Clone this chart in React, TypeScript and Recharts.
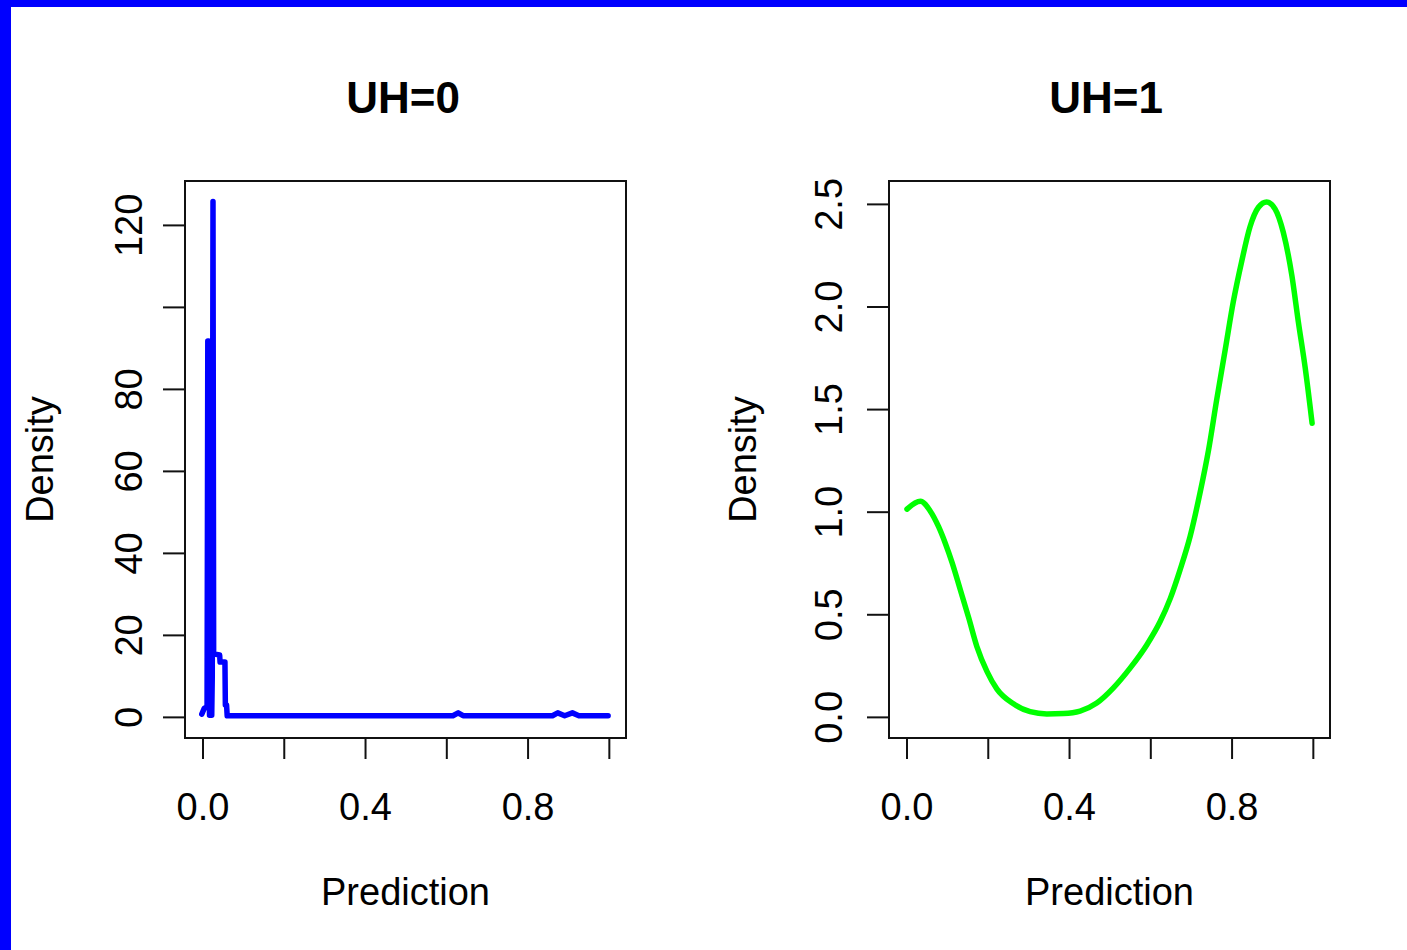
import { LineChart, Line, XAxis, YAxis, ReferenceArea } from 'recharts';

const W = 1407;
const H = 950;
const FONT = '"Liberation Sans", Arial, Helvetica, sans-serif';

// shared x axis
const xTicks = [0, 0.2, 0.4, 0.6, 0.8, 1.0];
const xTickLabels = ['0.0', '', '0.4', '', '0.8', ''];
const xDomain = [-0.0443, 1.041];

// UH=0 density (very narrow peak near 0)
const uh0X = [-0.003, 0.003, 0.01, 0.0118, 0.0138, 0.015, 0.016, 0.0215, 0.0228, 0.0246, 0.0262, 0.041, 0.042, 0.054, 0.055, 0.058, 0.0595, 0.1, 0.3, 0.5, 0.615, 0.628, 0.64, 0.86, 0.873, 0.89, 0.909, 0.925, 0.997];
const uh0Y = [0.8, 2.2, 2.6, 91.8, 91.8, 10, 0.5, 0.5, 10, 125.8, 15.5, 15.2, 13.5, 13.5, 3.0, 3.0, 0.4, 0.4, 0.4, 0.4, 0.4, 1.1, 0.4, 0.4, 1.1, 0.4, 1.1, 0.4, 0.4];
const uh0YTicks = [0, 20, 40, 60, 80, 100, 120];
const uh0YLabels = ['0', '20', '40', '60', '80', '', '120'];

// UH=1 density (bimodal)
const uh1X = [0, 0.033, 0.057, 0.078, 0.094, 0.111, 0.131, 0.152, 0.172, 0.197, 0.221, 0.262, 0.303, 0.344, 0.385, 0.426, 0.467, 0.508, 0.549, 0.59, 0.623, 0.648, 0.672, 0.697, 0.721, 0.742, 0.762, 0.783, 0.803, 0.824, 0.844, 0.865, 0.885, 0.906, 0.926, 0.947, 0.963, 0.98, 0.997];
const uh1Y = [1.015, 1.053, 1.006, 0.928, 0.85, 0.754, 0.623, 0.484, 0.345, 0.223, 0.139, 0.066, 0.028, 0.017, 0.019, 0.031, 0.07, 0.144, 0.24, 0.353, 0.467, 0.58, 0.719, 0.884, 1.093, 1.302, 1.546, 1.79, 2.025, 2.225, 2.39, 2.486, 2.512, 2.477, 2.364, 2.155, 1.929, 1.703, 1.433];
const uh1YTicks = [0, 0.5, 1, 1.5, 2, 2.5];
const uh1YLabels = ['0.0', '0.5', '1.0', '1.5', '2.0', '2.5'];

const PLOT_TOP = 181;
const PLOT_BOTTOM = 738;
const YAXIS_W = 60;
const XAXIS_H = 40;

interface PanelProps {
  xs: number[];
  ys: number[];
  color: string;
  yDomain: number[];
  yTicks: number[];
  yLabels: string[];
  left: number;
  right: number;
  yLabelX: number;
  densityX: number;
  lineType: 'linear' | 'monotone';
}

function Panel({ xs, ys, color, yDomain, yTicks, yLabels, left, right, yLabelX, densityX, lineType }: PanelProps) {
  const data = xs.map((x, i) => ({ x, y: ys[i] }));
  const cx = (left + right) / 2;
  const cy = (PLOT_TOP + PLOT_BOTTOM) / 2;

  return (
    <LineChart
      width={W}
      height={H}
      data={data}
      margin={{ top: PLOT_TOP, bottom: H - PLOT_BOTTOM - XAXIS_H, left: left - YAXIS_W, right: W - right }}
      style={{ position: 'absolute', left: 0, top: 0 }}
    >
      <XAxis
        dataKey="x"
        type="number"
        domain={xDomain}
        ticks={xTicks}
        allowDataOverflow
        height={XAXIS_H}
        axisLine={false}
        tickSize={21}
        tickLine={{ stroke: '#111', strokeWidth: 2 }}
        tick={(p: any) => (
          <text x={p.x} y={820} textAnchor="middle" fontSize={38} fontFamily={FONT} fill="#000">
            {xTickLabels[p.index]}
          </text>
        )}
        label={{
          content: () => (
            <text x={cx} y={905} textAnchor="middle" fontSize={38} fontFamily={FONT} fill="#000">
              Prediction
            </text>
          ),
        }}
      />
      <YAxis
        dataKey="y"
        type="number"
        domain={yDomain}
        ticks={yTicks}
        allowDataOverflow
        width={YAXIS_W}
        axisLine={false}
        tickSize={22}
        tickLine={{ stroke: '#111', strokeWidth: 2 }}
        tick={(p: any) => (
          <text
            x={yLabelX}
            y={p.y}
            transform={`rotate(-90 ${yLabelX} ${p.y})`}
            textAnchor="middle"
            fontSize={38}
            fontFamily={FONT}
            fill="#000"
          >
            {yLabels[p.index]}
          </text>
        )}
        label={{
          content: () => (
            <text
              x={densityX}
              y={cy}
              transform={`rotate(-90 ${densityX} ${cy})`}
              textAnchor="middle"
              fontSize={38}
              fontFamily={FONT}
              fill="#000"
            >
              Density
            </text>
          ),
        }}
      />
      <ReferenceArea
        x1={xDomain[0]}
        x2={xDomain[1]}
        y1={yDomain[0]}
        y2={yDomain[1]}
        fill="none"
        fillOpacity={0}
        stroke="#111"
        strokeWidth={2}
      />
      <Line
        type={lineType}
        dataKey="y"
        stroke={color}
        strokeWidth={5.5}
        strokeLinejoin="round"
        strokeLinecap="round"
        dot={false}
        activeDot={false}
        isAnimationActive={false}
      />
    </LineChart>
  );
}

export default function App() {
  return (
    <div style={{ position: 'absolute', left: 0, top: 0, width: W, height: H, background: '#fff', overflow: 'hidden' }}>
      <Panel
        xs={uh0X}
        ys={uh0Y}
        color="#0000ff"
        yDomain={[-5.03, 130.83]}
        yTicks={uh0YTicks}
        yLabels={uh0YLabels}
        left={185}
        right={626}
        yLabelX={142}
        densityX={53}
        lineType="linear"
      />
      <Panel
        xs={uh1X}
        ys={uh1Y}
        color="#00ff00"
        yDomain={[-0.1005, 2.614]}
        yTicks={uh1YTicks}
        yLabels={uh1YLabels}
        left={889}
        right={1330}
        yLabelX={842}
        densityX={756}
        lineType="monotone"
      />
      <svg width={W} height={H} style={{ position: 'absolute', left: 0, top: 0, pointerEvents: 'none' }}>
        <text x={403} y={113} textAnchor="middle" fontSize={44} fontWeight="bold" fontFamily={FONT} fill="#000">
          UH=0
        </text>
        <text x={1106} y={113} textAnchor="middle" fontSize={44} fontWeight="bold" fontFamily={FONT} fill="#000">
          UH=1
        </text>
      </svg>
      <div style={{ position: 'absolute', left: 0, top: 0, width: W, height: 7, background: '#0000ff' }} />
      <div style={{ position: 'absolute', left: 0, top: 0, width: 11, height: H, background: '#0000ff' }} />
    </div>
  );
}
